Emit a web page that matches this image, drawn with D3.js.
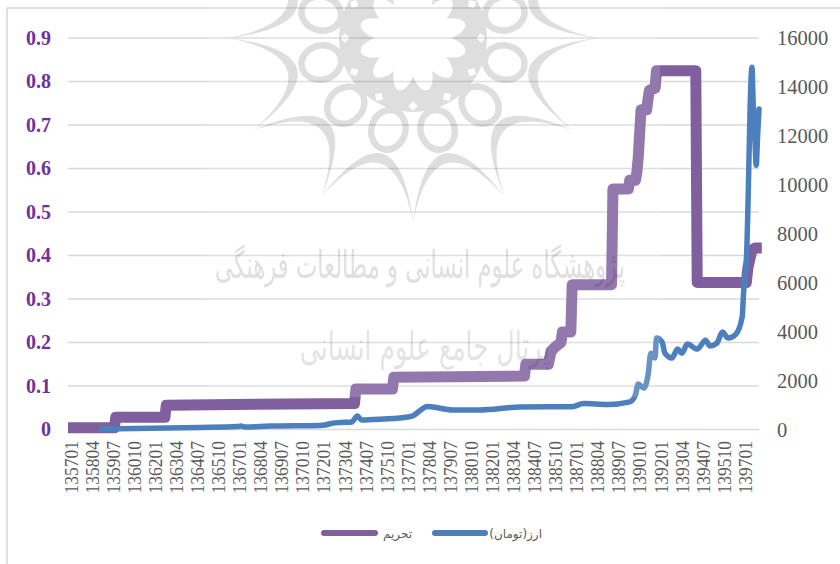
<!DOCTYPE html>
<html>
<head>
<meta charset="utf-8">
<script src="https://cdn.jsdelivr.net/npm/d3@7"></script>
<style>
html,body{margin:0;padding:0;background:#fff}
svg{display:block}
</style>
</head>
<body>
<svg id="chart" width="840" height="564"></svg>
<script>
const xTickLabels = ["135701","135804","135907","136010","136201","136304","136407","136510","136701","136804","136907","137010","137201","137304","137407","137510","137701","137804","137907","138010","138201","138304","138407","138510","138701","138804","138907","139010","139201","139304","139407","139510","139701"];
const leftTicks = [0,0.1,0.2,0.3,0.4,0.5,0.6,0.7,0.8,0.9];
const rightTicks = [0,2000,4000,6000,8000,10000,12000,14000,16000];
const sanctionMonths = [0,33,34,69,70,204,205,231,232,325,326,342,344,347,351,352,358,359,387,388,399,400,404,405,406,408,412,413,414,418,419,447,448,483,484,487,489,494];
const sanctionValues = [.004,.004,.028,.028,.056,.06,.093,.093,.12,.123,.15,.15,.18,.19,.2,.224,.224,.333,.333,.553,.553,.573,.573,.59,.625,.735,.735,.76,.78,.785,.825,.825,.338,.338,.37,.413,.417,.417];
const currencyMonths = [24,94,121,123,126,144,179,183,189,194,202,206,209,225,236,245,256,274,293,322,359,367,384,400,404,406,410,413,415,418,419,423,425,430,434,437,441,448,454,457,462,466,470,475,480,481,483,487,488,489,490,491,492];
const currencyValues = [20,80,120,145,100,140,165,185,265,285,305,550,390,430,470,550,940,800,800,920,930,1060,1020,1130,1410,1855,1695,2225,3120,2920,3735,3570,3120,2920,3285,3120,3490,3285,3650,3410,3530,3980,3735,3860,4590,5570,6920,14800,13000,12000,10800,12000,13100];
const legendLabels = ["تحریم","ارز(تومان)"];
const watermarkLines = ["پژوهشگاه علوم انسانی و مطالعات فرهنگی","پرتال جامع علوم انسانی"];

const svg = d3.select("#chart");
const purple = "#7f5f9e", blue = "#4c7fbd", gridC = "#d9d9d9";

svg.append("rect").attr("x",7).attr("y",8).attr("width",900).attr("height",700)
  .attr("fill","#fff").attr("stroke",gridC).attr("stroke-width",1.6);

const x = d3.scaleLinear().domain([0,492]).range([68,759]);
const yL = d3.scaleLinear().domain([0,0.9]).range([429.5,38]);
const yR = d3.scaleLinear().domain([0,16000]).range([429.5,38]);

svg.append("g").selectAll("line").data(leftTicks).join("line")
  .attr("x1",68).attr("x2",759)
  .attr("y1",d=>yL(d)).attr("y2",d=>yL(d))
  .attr("stroke",gridC).attr("stroke-width",1.5);

const lineS = d3.line().x(d=>x(d[0])).y(d=>yL(d[1]));
const lineC = d3.line().x(d=>x(d[0])).y(d=>yR(d[1])).curve(d3.curveMonotoneX);
svg.append("path").datum(d3.zip(sanctionMonths,sanctionValues))
  .attr("d",lineS).attr("fill","none").attr("stroke",purple)
  .attr("stroke-width",11).attr("stroke-linejoin","round").attr("stroke-linecap","butt");
svg.append("path").datum(d3.zip(currencyMonths,currencyValues))
  .attr("d",lineC).attr("fill","none").attr("stroke",blue)
  .attr("stroke-width",5.5).attr("stroke-linejoin","round").attr("stroke-linecap","round");

// Watermark image: faint white veil, then grey rosette and calligraphy multiplied over the chart
svg.append("rect").attr("x",207).attr("y",0).attr("width",453).attr("height",397)
  .attr("fill","#fff").attr("fill-opacity",.16);

const wm = svg.append("g").style("mix-blend-mode","multiply");
const ros = wm.append("g").attr("transform","translate(413,38)");
const grey = "#dedede";
const pol = (deg,r)=>{const a=deg*Math.PI/180;return [r*Math.sin(a),r*Math.cos(a)];};
const steps = d3.range(12).map(k=>k*30);
const crescent = a=>{
  const p=d3.path(),t1=pol(a,184),t2=pol(a+30,184),co=pol(a+15,82),ci=pol(a+15,62);
  p.moveTo(t1[0],t1[1]);p.quadraticCurveTo(co[0],co[1],t2[0],t2[1]);
  p.quadraticCurveTo(ci[0],ci[1],t1[0],t1[1]);p.closePath();return p.toString();
};
ros.append("g").selectAll("path").data(steps).join("path").attr("d",crescent).attr("fill",grey);
ros.append("circle").attr("r",74).attr("fill",grey);
ros.append("g").selectAll("ellipse").data(steps).join("ellipse")
  .attr("rx",20).attr("ry",17).attr("fill","#fff").attr("stroke",grey).attr("stroke-width",6.5)
  .attr("transform",d=>`rotate(${-d-15}) translate(0,95) rotate(90)`);
ros.append("g").selectAll("path").data(steps).join("path")
  .attr("d",d3.symbol(d3.symbolSquare,45))
  .attr("fill","#fff")
  .attr("transform",d=>`rotate(${-d}) translate(0,68) rotate(45)`);
ros.append("g").selectAll("ellipse").data(steps).join("ellipse")
  .attr("rx",10).attr("ry",21).attr("fill","#fff")
  .attr("transform",d=>`rotate(${-d-15}) translate(0,33)`);
ros.append("circle").attr("r",24).attr("fill","#fff");

const wmText = [{i:0,cx:420,cy:278,w:410,size:38,c:"#e0e0e0"},{i:1,cx:425,cy:360,w:250,size:40,c:"#e4e4e4"}];
wm.append("g").selectAll("text").data(wmText).join("text")
  .text(d=>watermarkLines[d.i])
  .attr("text-anchor","middle").attr("direction","rtl")
  .attr("font-family","DejaVu Sans").attr("font-size",d=>d.size).attr("fill",d=>d.c)
  .attr("transform",function(d){return `translate(${d.cx},${d.cy}) scale(${d.w/this.getComputedTextLength()},1)`;});

// Axes
const axL = svg.append("g").attr("transform","translate(51,0)")
  .call(d3.axisLeft(yL).tickValues(leftTicks).tickSize(0).tickPadding(0)
    .tickFormat(d=>d===0?"0":d3.format(".1f")(d)));
axL.select(".domain").remove();
axL.selectAll("text").attr("font-family","Liberation Serif").attr("font-weight","bold")
  .attr("font-size",20).attr("fill","#7030a0");

const axR = svg.append("g").attr("transform","translate(777,0)")
  .call(d3.axisRight(yR).tickValues(rightTicks).tickSize(0).tickPadding(0).tickFormat(d3.format("d")));
axR.select(".domain").remove();
axR.selectAll("text").attr("font-family","Liberation Serif").attr("font-size",20.5).attr("fill","#595959");

const axB = svg.append("g").attr("transform","translate(2.5,441)")
  .call(d3.axisBottom(x).tickValues(xTickLabels.map((d,i)=>i*15)).tickSize(0)
    .tickFormat((d,i)=>xTickLabels[i]));
axB.select(".domain").remove();
axB.selectAll("text").attr("font-family","Liberation Serif").attr("font-size",17.5).attr("fill","#595959")
  .attr("transform","rotate(-90) scale(1,1.12)").attr("text-anchor","end")
  .attr("x",0).attr("y",0).attr("dy","0.34em");

// Legend
const legend = [{x1:324,x2:375,c:purple,tx:412},{x1:435,x2:485,c:blue,tx:542}];
const lg = svg.append("g").selectAll("g").data(legend).join("g");
lg.append("line").attr("x1",d=>d.x1).attr("x2",d=>d.x2).attr("y1",533).attr("y2",533)
  .attr("stroke",d=>d.c).attr("stroke-width",6).attr("stroke-linecap","round");
lg.append("text").text((d,i)=>legendLabels[i])
  .attr("x",d=>d.tx).attr("y",538).attr("text-anchor","start").attr("direction","rtl")
  .attr("font-family","DejaVu Sans").attr("font-size",12).attr("fill","#595959");
</script>
</body>
</html>
